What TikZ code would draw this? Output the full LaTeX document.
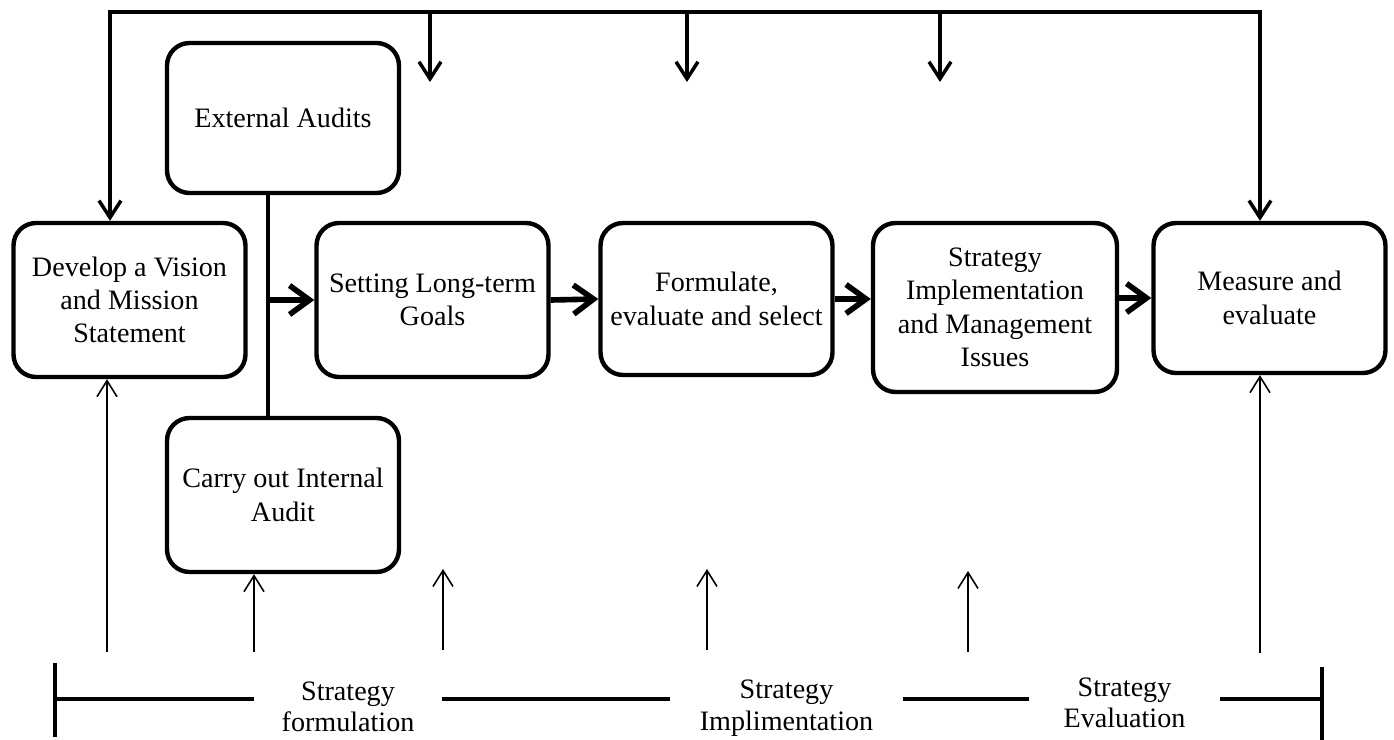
\documentclass[tikz,border=0pt]{standalone}
\usepackage{fontspec}
\setmainfont{Liberation Serif}
\usetikzlibrary{positioning, arrows.meta}

\begin{document}
\begin{tikzpicture}[
    x=0.02cm, y=-0.02cm,
    stage/.style={rectangle, rounded corners=4.5mm, draw, line width=2.5pt,
        minimum width=46.4mm, minimum height=30.8mm, align=center,
        inner sep=2pt, font=\fontsize{16}{19}\selectfont},
    phase/.style={inner sep=0pt, align=center, font=\fontsize{16}{18}\selectfont},
    flow/.style={line width=3.2pt, -{Straight Barb[length=4mm, width=5.8mm]}},
    feedback/.style={line width=2pt, -{Straight Barb[length=3.4mm, width=4.4mm]}},
    loopline/.style={line width=2pt, {Straight Barb[length=3.4mm, width=4.4mm]}-{Straight Barb[length=3.4mm, width=4.4mm]}},
    support/.style={line width=0.9pt, -{Straight Barb[length=3.2mm, width=4mm]}},
    phaseline/.style={line width=2.2pt}
]
\useasboundingbox (0,0) rectangle (1394,740);

\node[stage] (vision) at (129.5,300) {Develop a Vision\\and Mission\\Statement};
\node[stage, minimum height=30mm] (ext) at (283,118) {External Audits};
\node[stage] (audit) at (283,495) {Carry out Internal\\Audit};
\node[stage] (goals) at (432.5,300) {Setting Long-term\\Goals};
\node[stage, minimum height=30.4mm] (form) at (716.5,299) {Formulate,\\evaluate and select};
\node[stage, minimum width=48.8mm, minimum height=33.8mm] (impl) at (995,307.5) {Strategy\\Implementation\\and Management\\Issues};
\node[stage, minimum height=30mm] (measure) at (1269.5,298) {Measure and\\evaluate};

% audits feed the goals
\coordinate (join) at (268,300);
\draw[line width=2.5pt] (join |- ext.south) -- (join |- audit.north);
\draw[flow] (join) -- (goals.west);
\draw[flow] (goals.east) -- (form.west);
\draw[flow] (form.east) -- (impl.west |- form.east);
\draw[flow] (impl.east |- measure.west) -- (measure.west);

% feedback along the top
\coordinate (tl) at (110,12);
\coordinate (tr) at (1260,12);
\draw[loopline] (tl |- vision.north) -- (tl) -- (tr) -- (tr |- measure.north);
\coordinate (f1) at (430,82);
\coordinate (f2) at (687,82);
\coordinate (f3) at (940,82);
\draw[feedback] (f1 |- tl) -- (f1);
\draw[feedback] (f2 |- tl) -- (f2);
\draw[feedback] (f3 |- tl) -- (f3);

% phases
\node[phase, minimum width=37.6mm] (sf) at (348,707) {Strategy\\formulation};
\node[phase, minimum width=46.6mm] (si) at (786.5,708) {Strategy\\Implimentation};
\node[phase, minimum width=38.2mm] (se) at (1124.5,703) {Strategy\\Evaluation};

\coordinate (bl) at (55,699);
\coordinate (br) at (1322,699);
\coordinate (blt) at (55,663);
\coordinate (blb) at (55,737);
\coordinate (brt) at (1322,667);
\coordinate (brb) at (1322,740);
\draw[phaseline] (blt) -- (blb);
\draw[phaseline] (brt) -- (brb);
\draw[phaseline] (bl) -- (bl -| sf.west);
\draw[phaseline] (sf.east |- bl) -- (bl -| si.west);
\draw[phaseline] (si.east |- bl) -- (bl -| se.west);
\draw[phaseline] (se.east |- bl) -- (br);

% inputs from the phases
\coordinate (u1) at (107,652);
\coordinate (u2) at (254,652);
\coordinate (u3) at (443,650);
\coordinate (u4) at (707,650);
\coordinate (u5) at (968,652);
\coordinate (u6) at (1260,653);
\coordinate (e3) at (443,569);
\coordinate (e4) at (707,569);
\coordinate (e5) at (968,571);
\draw[support] (u1) -- (u1 |- vision.south);
\draw[support] (u2) -- (u2 |- audit.south);
\draw[support] (u3) -- (e3);
\draw[support] (u4) -- (e4);
\draw[support] (u5) -- (e5);
\draw[support] (u6) -- (u6 |- measure.south);

\end{tikzpicture}
\end{document}
